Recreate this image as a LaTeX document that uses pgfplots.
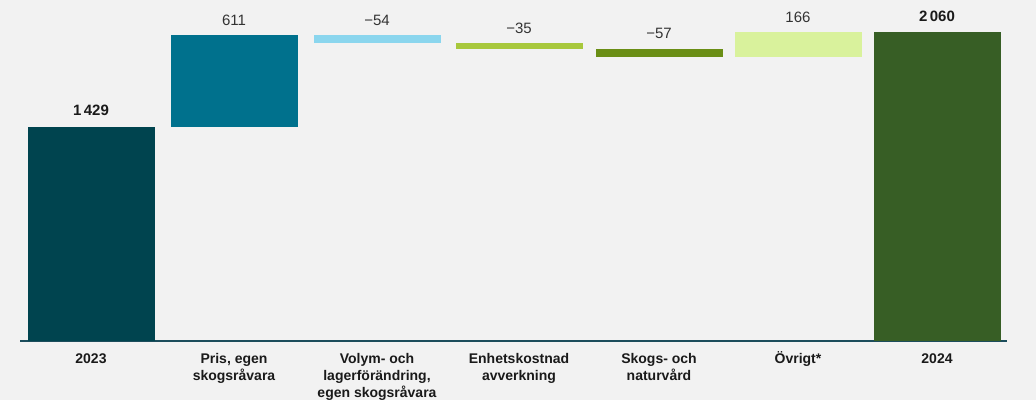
\documentclass[border=0pt]{standalone}
\usepackage{pgfplots}
\pgfplotsset{compat=1.18}
\usepackage{pgfplotstable}
\usepackage{fontspec}
\setmainfont{Liberation Sans}
\definecolor{bg}{HTML}{F2F2F2}
\definecolor{linec}{HTML}{1C4D5C}
\definecolor{c0}{HTML}{00444F}
\definecolor{c1}{HTML}{00718D}
\definecolor{c2}{HTML}{8BD6EE}
\definecolor{c3}{HTML}{A8C83C}
\definecolor{c4}{HTML}{6A8E15}
\definecolor{c5}{HTML}{D9F29C}
\definecolor{c6}{HTML}{375E25}
\definecolor{valc}{HTML}{333333}
\definecolor{labc}{HTML}{1A1A1A}

% x = category position
\pgfplotstableread{
x base a b c d e f g
91 0 1429 0 0 0 0 0 0
234 1429 0 611 0 0 0 0 0
377 1986 0 0 54 0 0 0 0
519 1951 0 0 0 35 0 0 0
659 1894 0 0 0 0 57 0 0
798 1894 0 0 0 0 0 166 0
937 0 0 0 0 0 0 0 2060
}\wf

\newcommand{\fl}{\vphantom{Ö}}

\begin{document}
\begin{tikzpicture}
\fill[bg] (-20pt,-59pt) rectangle (1016pt,341pt);
\begin{axis}[
  scale only axis, width=987pt, height=341pt,
  xmin=20, xmax=1007, ymin=0, ymax=2276,
  ybar stacked, bar width=127pt,
  hide y axis,
  axis x line*=bottom,
  x axis line style={-, line width=2pt, draw=linec},
  xtick={91,234,377,519,659,798,937},
  xticklabels={\fl 2023,{\fl Pris, egen\\skogsråvara},{\fl Volym- och\\lagerförändring,\\egen skogsråvara},{\fl Enhetskostnad\\avverkning},{\fl Skogs- och\\naturvård},{\fl Övrigt*},\fl 2024},
  major tick length=0pt,
  xticklabel style={font=\bfseries\fontsize{14}{17}\selectfont, align=center, anchor=north, inner sep=0pt, yshift=-10pt, text=labc},
  clip=false,
]
\addplot[fill=none, draw=none] table[x=x,y=base]{\wf};
\addplot[fill=c0, draw=none] table[x=x,y=a]{\wf};
\addplot[fill=c1, draw=none] table[x=x,y=b]{\wf};
\addplot[fill=c2, draw=none] table[x=x,y=c]{\wf};
\addplot[fill=c3, draw=none] table[x=x,y=d]{\wf};
\addplot[fill=c4, draw=none] table[x=x,y=e]{\wf};
\addplot[fill=c5, draw=none] table[x=x,y=f]{\wf};
\addplot[fill=c6, draw=none] table[x=x,y=g]{\wf};
\tikzset{val/.style={anchor=base, inner sep=0pt, yshift=10pt, text=valc, font=\fontsize{15}{18}\selectfont},
         tot/.style={anchor=base, inner sep=0pt, yshift=11pt, text=labc, font=\bfseries\fontsize{15}{18}\selectfont}}
\node[tot] at (axis cs:91,1429) {1\,429};
\node[val] at (axis cs:234,2040) {611};
\node[val] at (axis cs:377,2040) {−54};
\node[val] at (axis cs:519,1986) {−35};
\node[val] at (axis cs:659,1951) {−57};
\node[val] at (axis cs:798,2060) {166};
\node[tot] at (axis cs:937,2060) {2\,060};
\end{axis}
\pgfresetboundingbox
\useasboundingbox (-20pt,-59pt) rectangle (1016pt,341pt);
\end{tikzpicture}
\end{document}
